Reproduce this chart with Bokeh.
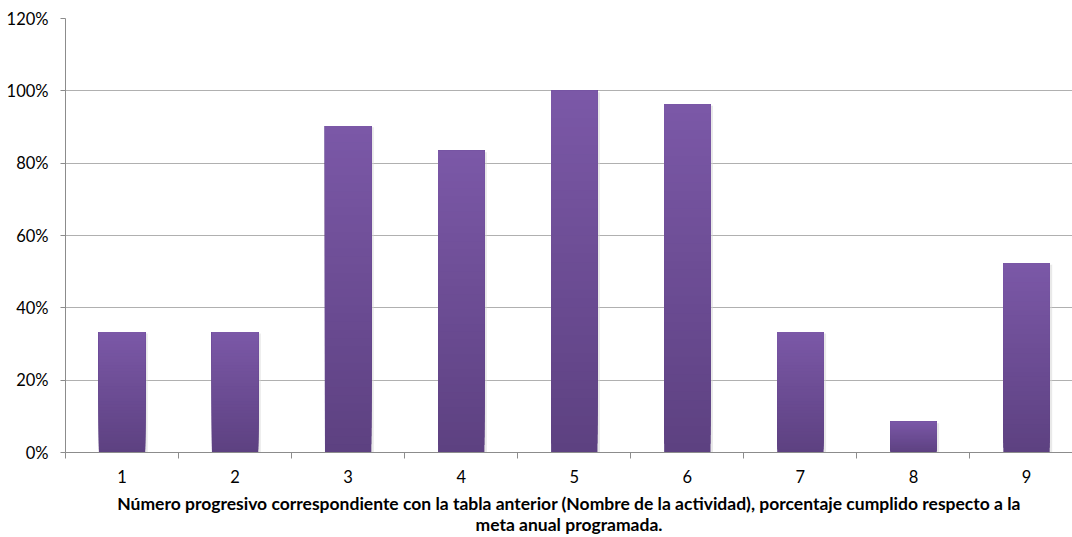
from bokeh.plotting import figure
from bokeh.models import Range1d, FixedTicker, NumeralTickFormatter, ColumnDataSource
from bokeh.embed import file_html
from bokeh.resources import INLINE

categories = ["1", "2", "3", "4", "5", "6", "7", "8", "9"]
values = [0.333, 0.333, 0.903, 0.834, 1.000, 0.963, 0.333, 0.085, 0.523]
y_ticks = [0, 0.2, 0.4, 0.6, 0.8, 1.0, 1.2]
x_title = ("Número progresivo correspondiente con la tabla anterior (Nombre de la actividad), "
           "porcentaje cumplido respecto a la\nmeta anual programada.")

FONT = "Lato"
TOP_COLOR = (0x7B, 0x58, 0xA7)
BOTTOM_COLOR = (0x5D, 0x41, 0x81)
BAR_W = 0.41
N_STRIPS = 40

W, H = 1072, 537
LEFT, BOTTOM, TOP = 65, 83, 18
frame_w = W - LEFT
px_per_cat = 113.06

p = figure(width=W, height=H, output_backend="svg", toolbar_location=None,
           x_range=Range1d(0.5, 0.5 + frame_w / px_per_cat), y_range=Range1d(0, 1.2),
           min_border_left=LEFT, min_border_right=0, min_border_top=TOP,
           min_border_bottom=BOTTOM)
p.outline_line_color = None
p.background_fill_color = "white"
p.border_fill_color = "white"

xs = list(range(1, len(categories) + 1))

# shadows
sh = ColumnDataSource(dict(
    left=[x - BAR_W / 2 + 0.01 for x in xs],
    right=[x + BAR_W / 2 + 0.022 for x in xs],
    top=[v - 0.004 for v in values],
    bottom=[-0.004 for _ in values]))
p.quad(left="left", right="right", top="top", bottom="bottom", source=sh,
       fill_color="#d4d4d4", fill_alpha=0.5, line_color=None)

# gradient bars as overlapping layers (each layer reaches to the bar top)
L, R, T, B, C = [], [], [], [], []
for x, v in zip(xs, values):
    for i in range(N_STRIPS):
        f0 = i / N_STRIPS
        t = (i + 0.5) / N_STRIPS
        col = tuple(int(round(BOTTOM_COLOR[k] + (TOP_COLOR[k] - BOTTOM_COLOR[k]) * t)) for k in range(3))
        L.append(x - BAR_W / 2)
        R.append(x + BAR_W / 2)
        B.append(v * f0)
        T.append(v)
        C.append("#%02x%02x%02x" % col)
src = ColumnDataSource(dict(left=L, right=R, top=T, bottom=B, color=C))
p.quad(left="left", right="right", top="top", bottom="bottom", source=src,
       fill_color="color", line_color=None)

# grid
p.xgrid.grid_line_color = None
p.ygrid.grid_line_color = "#b0b0b0"
p.ygrid.grid_line_width = 1
p.ygrid.ticker = FixedTicker(ticks=y_ticks[1:])

# y axis
p.yaxis.ticker = FixedTicker(ticks=y_ticks)
p.yaxis.formatter = NumeralTickFormatter(format="0%")
p.yaxis.axis_line_color = "#8c8c8c"
p.yaxis.major_tick_line_color = "#8c8c8c"
p.yaxis.major_tick_out = 5
p.yaxis.major_tick_in = 0
p.yaxis.minor_tick_line_color = None
p.yaxis.major_label_text_font = FONT
p.yaxis.major_label_text_font_size = "16.5px"
p.yaxis.major_label_text_color = "#000000"
p.yaxis.major_label_standoff = 12

# x axis
p.xaxis.ticker = FixedTicker(ticks=xs, minor_ticks=[x - 0.5 for x in xs] + [xs[-1] + 0.5])
p.xaxis.major_label_overrides = {x: c for x, c in zip(xs, categories)}
p.xaxis.axis_line_color = "#8c8c8c"
p.xaxis.major_tick_line_color = None
p.xaxis.major_tick_out = 0
p.xaxis.major_tick_in = 0
p.xaxis.minor_tick_line_color = "#8c8c8c"
p.xaxis.minor_tick_out = 6
p.xaxis.minor_tick_in = 0
p.xaxis.major_label_text_font = FONT
p.xaxis.major_label_text_font_size = "16.5px"
p.xaxis.major_label_text_color = "#000000"
p.xaxis.major_label_standoff = 11
p.xaxis.axis_label = x_title
p.xaxis.axis_label_text_font = FONT
p.xaxis.axis_label_text_font_size = "17.5px"
p.xaxis.axis_label_text_font_style = "bold"
p.xaxis.axis_label_text_color = "#000000"
p.xaxis.axis_label_standoff = 7
p.xaxis.axis_label_text_line_height = 1.0

open("out.html", "w").write(file_html(p, INLINE))
